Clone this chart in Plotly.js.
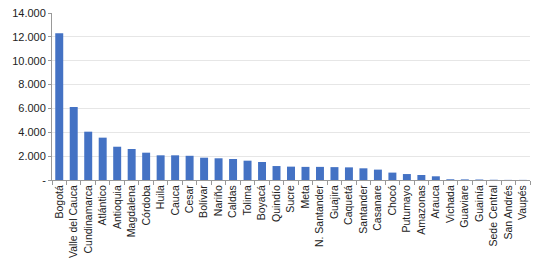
<!DOCTYPE html>
<html><head><meta charset="utf-8">
<script src="https://cdn.plot.ly/plotly-3.0.1.min.js"></script>
<style>html,body{margin:0;padding:0;background:#fff}#c{width:533px;height:262px}</style>
</head><body><div id="c"></div>
<script>
const categories = ["Bogotá","Valle del Cauca","Cundinamarca","Atlántico","Antioquia","Magdalena","Córdoba","Huila","Cauca","Cesar","Bolívar","Nariño","Caldas","Tolima","Boyacá","Quindío","Sucre","Meta","N. Santander","Guajira","Caquetá","Santander","Casanare","Chocó","Putumayo","Amazonas","Arauca","Vichada","Guaviare","Guainía","Sede Central","San Andrés","Vaupés"];
const values = [12300,6120,4050,3550,2790,2600,2290,2070,2070,2030,1870,1820,1760,1620,1510,1170,1120,1100,1100,1080,1060,980,870,620,500,420,310,60,50,40,20,10,10];
const yTickVals = [0,2000,4000,6000,8000,10000,12000,14000];
const yTickText = ["-","2.000","4.000","6.000","8.000","10.000","12.000","14.000"];
Plotly.newPlot('c',[{type:'bar',x:categories,y:values,marker:{color:'#4472C4'},hoverinfo:'none'}],{
  width:533,height:262,margin:{l:52,r:3,t:13,b:82},
  paper_bgcolor:'#fff',plot_bgcolor:'#fff',bargap:0.45,showlegend:false,
  font:{family:'Liberation Sans, Arial, sans-serif',size:10,color:'#222'},
  xaxis:{type:'category',tickangle:-90,ticks:'outside',tickson:'boundaries',ticklen:4,tickcolor:'#999',
    showline:true,linecolor:'#999',linewidth:1,showgrid:false,tickfont:{size:10.5,color:'#222'},automargin:false},
  yaxis:{range:[0,14000],tickvals:yTickVals,ticktext:yTickText,showline:true,linecolor:'#999',linewidth:1,
    ticks:'outside',ticklen:3,tickcolor:'#999',gridcolor:'#e6e6e6',zeroline:false,tickfont:{size:11,color:'#222'},automargin:false}
},{staticPlot:true,displayModeBar:false});
</script></body></html>
